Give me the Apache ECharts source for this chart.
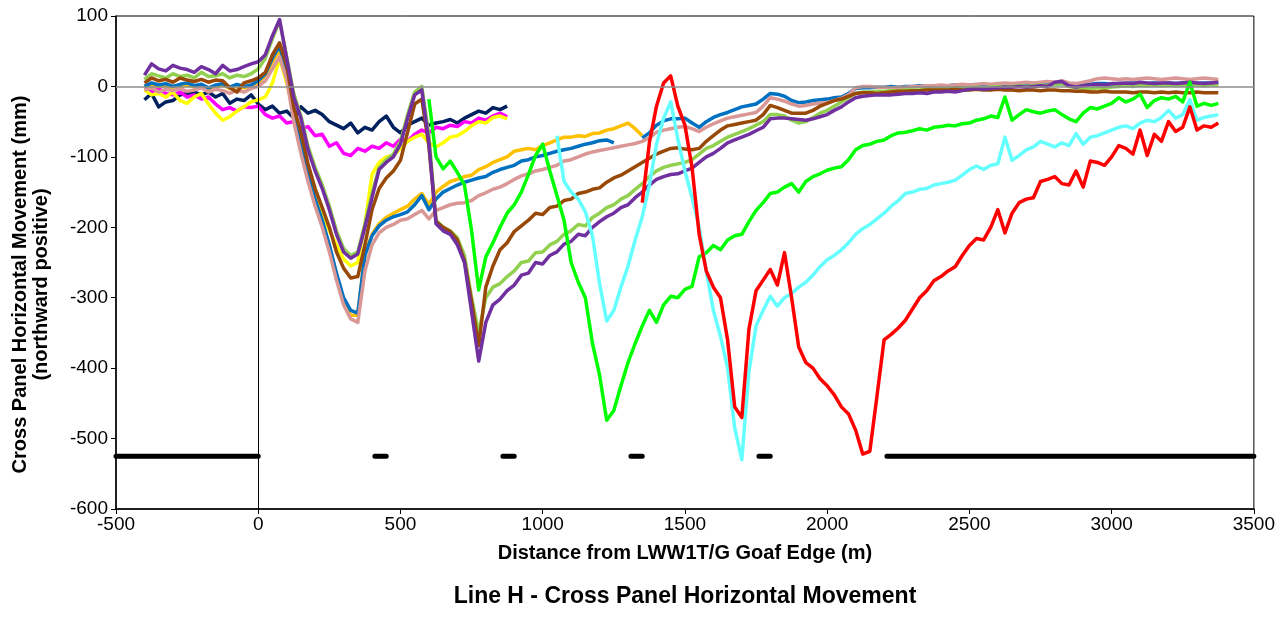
<!DOCTYPE html>
<html>
<head>
<meta charset="utf-8">
<title>Line H - Cross Panel Horizontal Movement</title>
<script src="https://cdn.jsdelivr.net/npm/echarts@6/dist/echarts.min.js"></script>
<style>
  html, body { margin: 0; padding: 0; background: #fff; }
  #chart { width: 1278px; height: 617px; }
</style>
</head>
<body>
<div id="chart"></div>
<script>
// survey stations every 25 m, each survey starts at its own chainage
var step = 25;

var navyFrom = -400;
var navyMm = [-19,-10,-29,-22,-20,-12,-10,-8,-12,-8,-15,-10,-24,-18,-20,-12,
  -25,-33,-28,-38,-35,-45,-29,-38,-34,-40,-50,-55,-60,-52,-66,-58,
  -62,-50,-42,-58,-66,-55,-50,-45,-55,-52,-50,-47,-52,-45,-40,-35,
  -38,-30,-33,-28];

var magentaFrom = -400;
var magentaMm = [-5,-8,-3,-10,-12,-8,-15,-12,-18,-15,-25,-33,-30,-35,-29,-30,
  -28,-40,-45,-42,-52,-50,-60,-57,-70,-68,-85,-80,-95,-98,-88,-92,
  -85,-88,-80,-85,-75,-78,-68,-62,-66,-58,-60,-55,-57,-50,-52,-45,
  -48,-42,-38,-43];

var yellowFrom = -400;
var yellowMm = [-5,-12,-10,-15,-8,-20,-24,-15,-10,-25,-38,-48,-43,-35,-29,-22,
  -19,-15,5,40,5,-35,-80,-118,-150,-178,-205,-225,-245,-255,-250,-195,
  -125,-108,-100,-98,-88,-78,-72,-68,-80,-86,-80,-72,-70,-64,-56,-50,
  -52,-44,-42,-46];

var orangeFrom = -400;
var orangeMm = [-2,2,0,1,-3,0,2,-1,0,-4,-1,2,-3,0,-2,0,
  5,15,35,52,15,-45,-90,-128,-162,-192,-228,-268,-305,-325,-325,-238,
  -210,-195,-186,-180,-175,-170,-160,-152,-168,-150,-142,-135,-132,-128,-126,-118,
  -114,-108,-104,-100,-92,-90,-88,-90,-84,-80,-76,-72,-72,-70,-71,-67,
  -66,-62,-60,-56,-52,-60,-70];

var blueFrom = -400;
var blueMm = [0,5,2,4,0,3,5,1,3,-2,2,4,-1,3,0,2,
  8,18,40,58,20,-40,-85,-125,-160,-190,-225,-265,-300,-318,-322,-240,
  -212,-198,-190,-185,-182,-178,-168,-155,-175,-160,-150,-145,-140,-136,-133,-130,
  -128,-122,-118,-115,-112,-106,-104,-100,-98,-95,-92,-90,-88,-85,-82,-80,
  -77,-76,-80,null,null,null,-73,-66,-55,-49,-46,-46,-45,-52,-58,-50,
  -44,-40,-37,-33,-29,-27,-25,-18,-10,-11,-14,-20,-23,-22,-20,-19,
  -18,-16,-15,-10,-3,-2,-2,-1,-1,0,-1,0,0,1,0,1,
  1,1,2,1,2,2,1,2,2,3,2,2,3,2,3,3,
  3,4,3,3,4,3,4,4,3,4,4,5,4,4,5,4,
  5,4,5,5,4,5,5,5];

var pinkFrom = -400;
var pinkMm = [-5,-2,-8,-4,-6,-3,-7,-5,-2,-8,-4,-6,-10,-5,-8,-3,
  0,8,25,42,10,-50,-95,-135,-170,-200,-235,-275,-310,-330,-335,-262,
  -225,-208,-200,-196,-190,-188,-182,-176,-188,-176,-172,-168,-166,-165,-162,-155,
  -151,-146,-143,-138,-132,-127,-124,-120,-118,-115,-112,-106,-104,-100,-96,-93,
  -91,-89,-87,-85,-83,-81,-78,-73,-65,-62,-60,-58,-57,-60,-64,-58,
  -53,-49,-45,-43,-41,-39,-37,-28,-16,-18,-21,-25,-28,-27,-25,-24,
  -23,-20,-17,-12,-2,0,0,-1,-1,-2,-1,-1,0,0,1,1,
  2,1,2,3,2,3,4,3,4,5,4,5,6,5,6,7,
  6,8,5,4,6,8,11,12,11,10,11,10,11,12,11,10,
  11,12,11,10,11,12,11,10];

var lightGreenFrom = -400;
var lightGreenMm = [10,18,15,12,18,14,16,12,20,14,15,18,12,16,14,18,
  25,40,68,93,42,-10,-42,-85,-115,-140,-170,-205,-230,-240,-235,-195,
  -152,-115,-104,-96,-78,-40,-8,0,-70,-190,-200,-205,-215,-240,-300,-350,
  -300,-285,-280,-270,-262,-250,-248,-236,-235,-225,-220,-210,-205,-196,-198,-186,
  -180,-172,-168,-160,-155,-146,-138,-128,-120,-115,-112,-110,-108,-104,-96,-88,
  -84,-78,-72,-68,-64,-60,-55,-50,-40,-40,-42,-48,-52,-50,-44,-38,
  -34,-28,-22,-16,-10,-8,-8,-7,-7,-6,-6,-5,-5,-5,-4,-4,
  -4,-3,-3,-2,-2,-1,-2,-1,0,-1,0,1,0,1,2,1,
  3,4,0,-2,-3,-4,-2,-3,-1,0,1,0,2,1,2,1,
  2,1,2,3,2,1,2,2];

var brownFrom = -400;
var brownMm = [5,12,8,10,6,12,9,7,10,6,9,8,-2,-8,5,8,
  12,20,45,62,30,-30,-65,-110,-145,-172,-200,-235,-258,-272,-270,-225,
  -175,-145,-130,-120,-105,-65,-25,-18,-85,-192,-200,-206,-218,-248,-305,-368,
  -285,-255,-232,-222,-206,-198,-190,-180,-182,-172,-170,-162,-160,-152,-150,-146,
  -144,-136,-130,-126,-120,-114,-108,-102,-96,-92,-88,-87,-89,-90,-88,-78,
  -70,-62,-56,-54,-52,-50,-48,-40,-27,-30,-34,-38,-38,-38,-34,-28,
  -24,-20,-18,-14,-10,-9,-9,-10,-9,-8,-7,-7,-6,-6,-5,-5,
  -5,-5,-4,-5,-5,-4,-5,-5,-4,-5,-5,-6,-5,-5,-6,-5,
  -5,-6,-6,-7,-7,-8,-8,-7,-8,-8,-8,-9,-8,-8,-9,-8,
  -9,-8,-9,-9,-8,-9,-9,-9];

var purpleFrom = -400;
var purpleMm = [16,32,25,22,30,26,24,20,28,24,18,30,22,24,28,32,
  35,45,72,95,40,-15,-45,-90,-120,-145,-175,-210,-235,-244,-238,-200,
  -158,-118,-108,-100,-82,-45,-12,-5,-80,-195,-205,-210,-225,-250,-320,-390,
  -335,-310,-302,-290,-282,-268,-265,-250,-252,-240,-235,-224,-220,-210,-212,-200,
  -192,-185,-180,-172,-168,-158,-150,-140,-132,-128,-125,-124,-120,-116,-108,-100,
  -95,-88,-80,-76,-72,-68,-63,-58,-46,-45,-45,-46,-47,-48,-46,-43,
  -40,-34,-29,-22,-16,-14,-13,-12,-12,-12,-11,-10,-10,-9,-10,-8,
  -8,-7,-8,-6,-4,-3,-4,-3,-2,-1,-1,0,-1,0,1,0,
  6,7,1,-1,1,2,3,2,4,4,5,4,6,5,4,5,
  5,4,5,6,5,4,5,6];

var greenFrom = 600;
var greenMm = [-18,-100,-117,-106,-122,-140,-205,-289,
  -242,-222,-200,-180,-168,-150,-125,-98,-82,-120,-155,-190,-250,-278,-300,-365,
  -410,-474,-460,-425,-392,-365,-340,-318,-335,-310,-298,-300,-288,-284,-242,-236,
  -226,-232,-218,-212,-210,-192,-176,-165,-152,-150,-143,-138,-150,-135,-128,-124,
  -119,-116,-114,-104,-90,-84,-82,-78,-76,-70,-66,-65,-63,-60,-62,-58,
  -57,-55,-56,-53,-52,-48,-46,-42,-44,-15,-48,-40,-33,-36,-38,-35,
  -33,-40,-46,-50,-38,-30,-32,-28,-24,-16,-22,-18,-11,-30,-20,-16,
  -18,-14,-22,6,-28,-24,-27,-24];

var cyanFrom = 1050;
var cyanMm = [-70,-135,-150,-160,-178,-212,
  -280,-333,-318,-285,-255,-218,-185,-140,-82,-45,-22,-75,-120,-158,-200,-262,
  -318,-355,-400,-485,-530,-405,-340,-318,-298,-312,-300,-294,-285,-278,-268,-256,
  -246,-240,-232,-222,-210,-202,-196,-188,-180,-170,-162,-152,-150,-146,-145,-140,
  -138,-136,-133,-126,-118,-113,-118,-112,-110,-72,-105,-98,-90,-86,-78,-82,
  -86,-80,-84,-67,-82,-72,-70,-66,-62,-58,-56,-60,-52,-48,-50,-44,
  -34,-45,-40,-19,-48,-44,-42,-40];

var redFrom = 1350;
var redMm = [-165,-80,-28,5,15,-28,-55,-115,-210,-262,
  -285,-300,-360,-455,-470,-345,-290,-275,-260,-282,-236,-300,-370,-392,-400,-415,
  -425,-438,-455,-465,-488,-522,-518,-440,-360,-352,-343,-332,-316,-300,-290,-276,
  -270,-262,-256,-240,-226,-216,-218,-200,-175,-208,-180,-165,-160,-158,-135,-132,
  -128,-138,-140,-120,-143,-106,-108,-112,-100,-84,-88,-96,-62,-98,-68,-78,
  -50,-64,-58,-29,-62,-56,-58,-52];

// panel / pillar layout bar drawn near the bottom
var pillarStart = [-500, 410, 860, 1310, 1760, 2210];
var pillarEnd = [0, 450, 900, 1350, 1800, 3500];
var pillarLevel = -525;

var xTicks = [-500, 0, 500, 1000, 1500, 2000, 2500, 3000, 3500];
var yTicks = [-600, -500, -400, -300, -200, -100, 0, 100];

function toPairs(from, values) {
  return values.map(function (v, i) { return [from + i * step, v]; });
}

var pillarData = [];
pillarStart.forEach(function (s, i) {
  pillarData.push([s, pillarLevel]);
  pillarData.push([pillarEnd[i], pillarLevel]);
  pillarData.push([pillarEnd[i], null]);
});

var surveys = [
  { name: 'Survey 1', color: '#002060', data: toPairs(navyFrom, navyMm) },
  { name: 'Survey 2', color: '#FF00FF', data: toPairs(magentaFrom, magentaMm) },
  { name: 'Survey 3', color: '#FFFF00', data: toPairs(yellowFrom, yellowMm) },
  { name: 'Survey 4', color: '#FFC000', data: toPairs(orangeFrom, orangeMm) },
  { name: 'Survey 5', color: '#0070C0', data: toPairs(blueFrom, blueMm) },
  { name: 'Survey 6', color: '#D99795', data: toPairs(pinkFrom, pinkMm) },
  { name: 'Survey 7', color: '#92D050', data: toPairs(lightGreenFrom, lightGreenMm) },
  { name: 'Survey 8', color: '#984807', data: toPairs(brownFrom, brownMm) },
  { name: 'Survey 9', color: '#7030A0', data: toPairs(purpleFrom, purpleMm) },
  { name: 'Survey 10', color: '#00FF00', data: toPairs(greenFrom, greenMm) },
  { name: 'Survey 11', color: '#66FFFF', data: toPairs(cyanFrom, cyanMm) },
  { name: 'Survey 12', color: '#FF0000', data: toPairs(redFrom, redMm) }
];

var fontFam = '"Liberation Sans", Arial, sans-serif';

var myChart = echarts.init(document.getElementById('chart'));

var series = [{
  name: 'Pillars',
  type: 'line',
  data: pillarData,
  showSymbol: false,
  connectNulls: false,
  silent: true,
  lineStyle: { color: '#000', width: 5, cap: 'round' },
  markLine: {
    silent: true,
    symbol: 'none',
    label: { show: false },
    data: [
      { xAxis: 0, lineStyle: { color: '#000', width: 1, type: 'solid' } },
      { yAxis: 0, lineStyle: { color: '#8c8c8c', width: 1.5, type: 'solid' } }
    ]
  }
}];

surveys.forEach(function (s) {
  series.push({
    name: s.name,
    type: 'line',
    data: s.data,
    showSymbol: false,
    connectNulls: false,
    lineStyle: { color: s.color, width: 3.5, join: 'round' },
    itemStyle: { color: s.color }
  });
});

var option = {
  animation: false,
  backgroundColor: '#fff',
  grid: {
    left: 116, right: 22, top: 16, bottom: 108,
    show: true, borderColor: '#000', borderWidth: 1
  },
  xAxis: {
    type: 'value',
    min: xTicks[0], max: xTicks[xTicks.length - 1], interval: 500,
    name: 'Distance from LWW1T/G Goaf Edge (m)',
    nameLocation: 'middle',
    nameGap: 34,
    nameTextStyle: { fontFamily: fontFam, fontSize: 20, fontWeight: 'bold', color: '#000' },
    axisLine: { onZero: false, lineStyle: { color: '#000', width: 1.5 } },
    axisTick: { show: true, length: 5, lineStyle: { color: '#000' } },
    axisLabel: {
      fontFamily: fontFam, fontSize: 19, color: '#000', margin: 6,
      formatter: function (v) { return String(v); }
    },
    splitLine: { show: false }
  },
  yAxis: {
    type: 'value',
    min: yTicks[0], max: yTicks[yTicks.length - 1], interval: 100,
    name: 'Cross Panel Horizontal Movement (mm)\n(northward positive)',
    nameLocation: 'middle',
    nameGap: 64,
    nameTextStyle: {
      fontFamily: fontFam, fontSize: 20, fontWeight: 'bold', color: '#000',
      lineHeight: 21, padding: [0, 44, 0, 0]
    },
    axisLine: { onZero: false, lineStyle: { color: '#000', width: 1.5 } },
    axisTick: { show: true, length: 5, lineStyle: { color: '#000' } },
    axisLabel: {
      fontFamily: fontFam, fontSize: 19, color: '#000', margin: 8,
      formatter: function (v) { return String(v); }
    },
    splitLine: { show: false }
  },
  graphic: [{
    type: 'text',
    x: 685,
    y: 597,
    style: {
      text: 'Line H - Cross Panel Horizontal Movement',
      font: 'bold 23px ' + fontFam,
      fill: '#000',
      textAlign: 'center',
      textVerticalAlign: 'middle'
    }
  }],
  series: series
};

myChart.setOption(option);
</script>
</body>
</html>
